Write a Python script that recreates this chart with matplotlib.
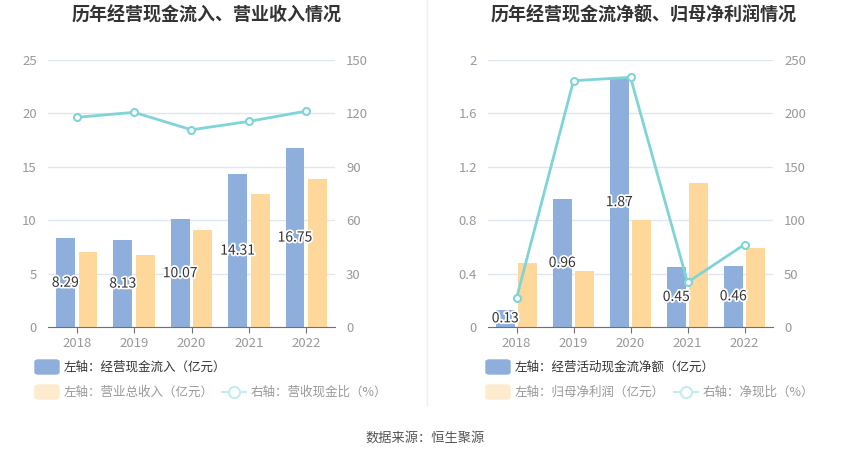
import matplotlib
matplotlib.use("Agg")
import matplotlib.pyplot as plt
import matplotlib.patheffects as pe
from matplotlib.patches import FancyBboxPatch
from matplotlib.lines import Line2D
import numpy as np

plt.rcParams['font.family'] = ['Noto Sans CJK SC', 'DejaVu Sans']

years = ['2018', '2019', '2020', '2021', '2022']
# left chart
cash_inflow = [8.29, 8.13, 10.07, 14.31, 16.75]
revenue = [7.03, 6.72, 9.06, 12.41, 13.84]
cash_ratio = [117.8, 120.6, 110.8, 115.5, 121.3]
# right chart
net_cash = [0.13, 0.96, 1.87, 0.45, 0.46]
net_profit = [0.48, 0.42, 0.80, 1.08, 0.59]
net_ratio = [26.9, 230.6, 233.8, 41.9, 77.2]

title_l = '历年经营现金流入、营业收入情况'
title_r = '历年经营现金流净额、归母净利润情况'
leg_l = ['左轴：经营现金流入（亿元）', '左轴：营业总收入（亿元）', '右轴：营收现金比（%）']
leg_r = ['左轴：经营活动现金流净额（亿元）', '左轴：归母净利润（亿元）', '右轴：净现比（%）']
source = '数据来源：恒生聚源'

BLUE = '#8eaedb'
ORANGE = '#fed79b'
CYAN = '#7fd4d8'
GRID = '#e0e6f1'
TICK = '#999999'

W, H = 850, 459
fig = plt.figure(figsize=(W/100, H/100), dpi=100)

def px(x0, y0, x1, y1):
    return [x0/W, 1 - y1/H, (x1-x0)/W, (y1-y0)/H]

def draw(rect, bars1, bars2, line, lmax, lticks, lfmt, rmax, rticks):
    ax = fig.add_axes(rect)
    x = np.arange(len(years))
    ax.bar(x - 0.197, bars1, width=0.33, color=BLUE, zorder=2)
    ax.bar(x + 0.197, bars2, width=0.33, color=ORANGE, zorder=2)
    ax.set_xlim(-0.5, len(years) - 0.5)
    ax.set_ylim(0, lmax)
    ax.set_yticks(lticks)
    ax.set_yticklabels([lfmt(v) for v in lticks])
    ax.set_xticks(x)
    ax.set_xticklabels(years)
    ax.grid(axis='y', color=GRID, linewidth=1, zorder=0)
    for s in ['top', 'right', 'left']:
        ax.spines[s].set_visible(False)
    ax.spines['bottom'].set_color('#6e7079')
    ax.tick_params(axis='y', length=0, colors=TICK, labelsize=9.5, pad=8)
    ax.tick_params(axis='x', length=4, color='#6e7079', colors=TICK, labelsize=9.5, pad=3)
    for xi, v in zip(x, bars1):
        ax.text(xi - 0.197, v / 2, f'{v:.2f}', ha='center', va='center', fontsize=10,
                color='#333333', zorder=5,
                path_effects=[pe.withStroke(linewidth=2.5, foreground='white')])
    ax2 = ax.twinx()
    ax2.plot(x, line, color=CYAN, linewidth=2, marker='o', markersize=5,
             markerfacecolor='white', markeredgecolor=CYAN, markeredgewidth=1.5, zorder=4)
    ax2.set_ylim(0, rmax)
    ax2.set_yticks(rticks)
    for s in ['top', 'right', 'left', 'bottom']:
        ax2.spines[s].set_visible(False)
    ax2.tick_params(axis='y', length=0, colors=TICK, labelsize=9.5, pad=8)
    return ax

draw(px(48, 60, 335, 327), cash_inflow, revenue, cash_ratio, 25, [0, 5, 10, 15, 20, 25],
     lambda v: f'{v:g}', 150, [0, 30, 60, 90, 120, 150])
draw(px(488, 60, 773, 327), net_cash, net_profit, net_ratio, 2, [0, 0.4, 0.8, 1.2, 1.6, 2],
     lambda v: f'{v:g}', 250, [0, 50, 100, 150, 200, 250])

fig.text(207/W, 1 - 15/H, title_l, ha='center', va='center', fontsize=13, fontweight='bold', color='#333333')
fig.text(644/W, 1 - 15/H, title_r, ha='center', va='center', fontsize=13, fontweight='bold', color='#333333')

# divider
fig.add_artist(Line2D([427/W, 427/W], [1 - 405/H, 1.0], color='#eeeeee', linewidth=1))

def legend(x0, labels, line_x):
    # row 1
    fig.add_artist(FancyBboxPatch((x0/W, 1 - 374/H), 24/W, 14/H,
                                  boxstyle='round,pad=0,rounding_size=0.004', color=BLUE,
                                  transform=fig.transFigure))
    fig.text((x0 + 29)/W, 1 - 367/H, labels[0], ha='left', va='center', fontsize=9, color='#333333')
    # row 2
    fig.add_artist(FancyBboxPatch((x0/W, 1 - 399/H), 24/W, 14/H,
                                  boxstyle='round,pad=0,rounding_size=0.004', color='#fdebcd',
                                  transform=fig.transFigure))
    fig.text((x0 + 29)/W, 1 - 392/H, labels[1], ha='left', va='center', fontsize=9, color='#999999')
    fig.add_artist(Line2D([line_x/W, (line_x + 24)/W], [1 - 392/H, 1 - 392/H], color='#c2ecee',
                          linewidth=1.5))
    fig.add_artist(Line2D([(line_x + 12)/W], [1 - 392/H], color='#c2ecee', marker='o', markersize=8,
                          markerfacecolor='white', markeredgecolor='#c2ecee', markeredgewidth=1.5))
    fig.text((line_x + 29)/W, 1 - 392/H, labels[2], ha='left', va='center', fontsize=9, color='#999999')

legend(35, leg_l, 222)
legend(486, leg_r, 674)

fig.text(425/W, 1 - 438/H, source, ha='center', va='center', fontsize=9.5, color='#555555')

fig.savefig('out.png', dpi=100)
